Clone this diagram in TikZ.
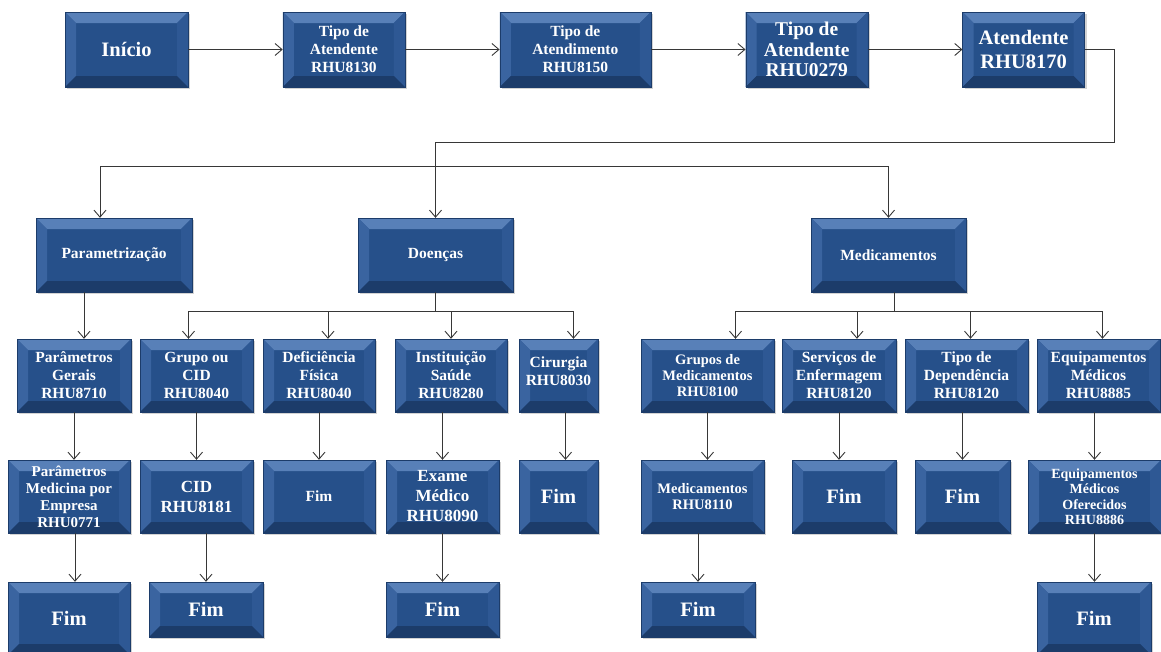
\documentclass[tikz,border=0pt]{standalone}
\usepackage{fontspec}
\setmainfont{Liberation Serif}
\usetikzlibrary{positioning,shadows,arrows.meta,calc}
\definecolor{caixa}{RGB}{38,80,138}
\definecolor{caixatopo}{RGB}{88,128,184}
\definecolor{caixaesq}{RGB}{58,100,160}
\definecolor{caixadir}{RGB}{46,88,148}
\definecolor{caixabase}{RGB}{28,60,106}
\definecolor{cinza}{RGB}{55,55,55}
\tikzstyle{tela}=[rectangle, fill=caixa, draw=caixabase, line width=0.4pt,
        drop shadow={opacity=0.35, shadow xshift=2pt, shadow yshift=-2pt},
        text=white, align=center, inner sep=2pt, minimum height=73pt,
        path picture={
          \coordinate (bvA) at (path picture bounding box.north west);
          \coordinate (bvB) at (path picture bounding box.north east);
          \coordinate (bvC) at (path picture bounding box.south east);
          \coordinate (bvD) at (path picture bounding box.south west);
          \fill[caixatopo] (bvA) -- (bvB) -- ($(bvB)+(-11pt,-11pt)$) -- ($(bvA)+(11pt,-11pt)$) -- cycle;
          \fill[caixaesq] (bvA) -- (bvD) -- ($(bvD)+(11pt,11pt)$) -- ($(bvA)+(11pt,-11pt)$) -- cycle;
          \fill[caixadir] (bvB) -- (bvC) -- ($(bvC)+(-11pt,11pt)$) -- ($(bvB)+(-11pt,-11pt)$) -- cycle;
          \fill[caixabase] (bvD) -- (bvC) -- ($(bvC)+(-11pt,11pt)$) -- ($(bvD)+(11pt,11pt)$) -- cycle;
        }]
\tikzstyle{fp}=[font=\bfseries\fontsize{14.5}{16}\selectfont]
\tikzstyle{fm}=[font=\bfseries\fontsize{15.5}{18}\selectfont]
\tikzstyle{fc}=[font=\bfseries\fontsize{17}{20}\selectfont]
\tikzstyle{fg}=[font=\bfseries\fontsize{20.5}{24}\selectfont]
\tikzstyle{seta}=[draw=cinza, line width=0.9pt, -{Straight Barb[length=7pt,width=12pt]}]

\begin{document}
\begin{tikzpicture}[x=1pt, y=-1pt, node distance=94.5pt]
        \useasboundingbox (0,0) rectangle (1161,651);
        \node (inicio) [tela, fg, minimum width=123pt, minimum height=75pt] at (126.5,49.5) {Início};
        \node (atd1) [tela, fm, minimum width=122pt, minimum height=75pt, right=of inicio] {Tipo de\\Atendente\\RHU8130};
        \node (atm) [tela, fm, minimum width=151pt, minimum height=75pt, right=of atd1] {Tipo de\\Atendimento\\RHU8150};
        \node (atd2) [tela, font=\bfseries\fontsize{19.5}{20.5}\selectfont, minimum width=122pt, minimum height=75pt, right=of atm] {Tipo de\\Atendente\\RHU0279};
        \node (atd3) [tela, fg, minimum width=122pt, minimum height=75pt, right=of atd2] {Atendente\\RHU8170};

        \node (param) [tela, fm, minimum width=156pt, minimum height=74pt] at (114,255) {Parametrização};
        \node (doenc) [tela, fm, minimum width=155pt, minimum height=74pt] at (435.5,255) {Doenças};
        \node (medic) [tela, fm, minimum width=155pt, minimum height=74pt] at (888.5,255) {Medicamentos};

        \node (pger) [tela, fm, minimum width=114pt] at (74,375.5) {Parâmetros\\Gerais\\RHU8710};
        \node (gcid) [tela, fm, minimum width=113pt] at (196.5,375.5) {Grupo ou\\CID\\RHU8040};
        \node (defi) [tela, fm, minimum width=112pt] at (319,375.5) {Deficiência\\Física\\RHU8040};
        \node (inst) [tela, fm, minimum width=112pt] at (451,375.5) {Instituição\\Saúde\\RHU8280};
        \node (ciru) [tela, fm, minimum width=79pt, text depth=8pt] at (558.5,375.5) {Cirurgia\\RHU8030};
        \node (gmed) [tela, fp, minimum width=133pt] at (707.5,375.5) {Grupos de\\Medicamentos\\RHU8100};
        \node (serv) [tela, fm, minimum width=114pt] at (839,375.5) {Serviços de\\Enfermagem\\RHU8120};
        \node (tdep) [tela, fm, minimum width=123pt] at (966.5,375.5) {Tipo de\\Dependência\\RHU8120};
        \node (equi) [tela, fm, minimum width=123pt] at (1098.5,375.5) {Equipamentos\\Médicos\\RHU8885};

        \node (pmed) [tela, font=\bfseries\fontsize{15}{17}\selectfont, minimum width=122pt] at (69,496.5) {Parâmetros\\Medicina por\\Empresa\\RHU0771};
        \node (cid) [tela, fc, minimum width=113pt] at (196.5,496.5) {CID\\RHU8181};
        \node (fdef) [tela, fm, minimum width=112pt] at (319,496.5) {Fim};
        \node (exam) [tela, fc, minimum width=113pt] at (442.5,496.5) {Exame\\Médico\\RHU8090};
        \node (fcir) [tela, fg, minimum width=79pt] at (558.5,496.5) {Fim};
        \node (meds) [tela, fp, minimum width=123pt] at (702.5,496.5) {Medicamentos\\RHU8110};
        \node (fser) [tela, fg, minimum width=104pt] at (844,496.5) {Fim};
        \node (ftdp) [tela, fg, minimum width=95pt] at (962.5,496.5) {Fim};
        \node (eqof) [tela, font=\bfseries\fontsize{14}{15.5}\selectfont, minimum width=133pt] at (1094.5,496.5) {Equipamentos\\Médicos\\Oferecidos\\RHU8886};

        \node (fim1) [tela, fg, minimum width=122pt] at (69,618.5) {Fim};
        \node (fim2) [tela, fg, minimum width=114pt, minimum height=55pt] at (206,609.5) {Fim};
        \node (fim3) [tela, fg, minimum width=113pt, minimum height=55pt] at (442.5,609.5) {Fim};
        \node (fim4) [tela, fg, minimum width=114pt, minimum height=55pt] at (698,609.5) {Fim};
        \node (fim5) [tela, fg, minimum width=114pt] at (1094,618.5) {Fim};

        \draw[seta] (inicio) -- (atd1);
        \draw[seta] (atd1) -- (atm);
        \draw[seta] (atm) -- (atd2);
        \draw[seta] (atd2) -- (atd3);
        \draw[seta] (atd3.east) -- ++(30,0) -- ++(0,93) -| (doenc.north);
        \draw[seta] (doenc.north) ++(0,-51) -| ([xshift=-14pt]param.north);
        \draw[seta] (doenc.north) ++(0,-51) -| (medic.north);

        \draw[seta] ([xshift=-30pt]param.south) -- ([xshift=10pt]pger.north);
        \draw[seta] (doenc.south) -- ++(0,19) -| ([xshift=-8pt]gcid.north);
        \draw[seta] (doenc.south) -- ++(0,19) -| ([xshift=9pt]defi.north);
        \draw[seta] (doenc.south) -- ++(0,19) -| (inst.north);
        \draw[seta] (doenc.south) -- ++(0,19) -| ([xshift=15pt]ciru.north);
        \draw[seta] ([xshift=6pt]medic.south) -- ++(0,19) -| ([xshift=28pt]gmed.north);
        \draw[seta] ([xshift=6pt]medic.south) -- ++(0,19) -| ([xshift=18pt]serv.north);
        \draw[seta] ([xshift=6pt]medic.south) -- ++(0,19) -| ([xshift=4pt]tdep.north);
        \draw[seta] ([xshift=6pt]medic.south) -- ++(0,19) -| ([xshift=4pt]equi.north);

        \draw[seta] (pger.south) -- (pger.south |- pmed.north);
        \draw[seta] (gcid.south) -- (gcid.south |- cid.north);
        \draw[seta] (defi.south) -- (defi.south |- fdef.north);
        \draw[seta] (exam.north |- inst.south) -- (exam.north);
        \draw[seta] ([xshift=7pt]ciru.south) -- ([xshift=7pt]fcir.north);
        \draw[seta] (gmed.south) -- (gmed.south |- meds.north);
        \draw[seta] (serv.south) -- (serv.south |- fser.north);
        \draw[seta] (ftdp.north |- tdep.south) -- (ftdp.north);
        \draw[seta] (eqof.north |- equi.south) -- (eqof.north);

        \draw[seta] ([xshift=6pt]pmed.south) -- ([xshift=6pt]fim1.north);
        \draw[seta] (fim2.north |- cid.south) -- (fim2.north);
        \draw[seta] (exam.south) -- (fim3.north);
        \draw[seta] (fim4.north |- meds.south) -- (fim4.north);
        \draw[seta] (eqof.south) -- (eqof.south |- fim5.north);
\end{tikzpicture}
\end{document}
